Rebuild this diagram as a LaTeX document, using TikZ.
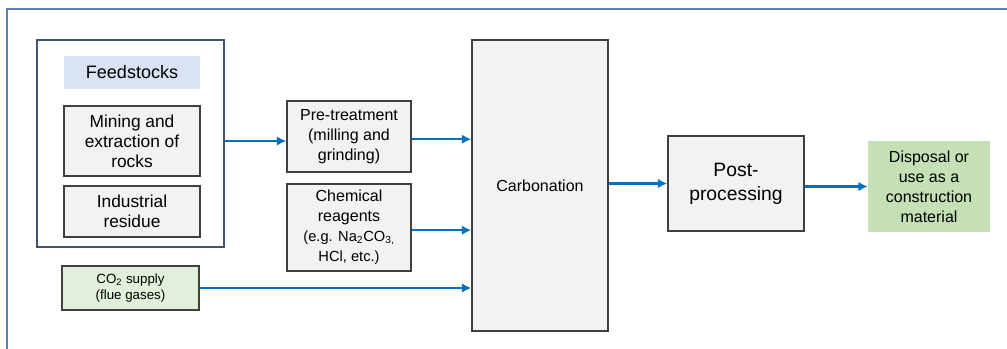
\documentclass[tikz,border=0pt]{standalone}
\usepackage{fontspec}
\setmainfont{Liberation Sans}
\usetikzlibrary{positioning, arrows.meta, calc}

\definecolor{flowblue}{HTML}{0070C0}
\definecolor{framesteel}{HTML}{5B82B0}
\definecolor{groupslate}{HTML}{44546A}
\definecolor{labelblue}{HTML}{DAE3F3}
\definecolor{supplygreen}{HTML}{E2EFDA}
\definecolor{endgreen}{HTML}{C5E0B4}

\begin{document}
\begin{tikzpicture}[
    x=0.75pt, y=-0.75pt,
    >=Latex,
    % Styles
    stage/.style={ % Process box
        rectangle,
        draw=black!75,
        fill=gray!10,
        line width=1.1pt,
        align=center,
        inner sep=0pt,
        font=\fontsize{12}{15}\selectfont
    },
    group/.style={ % Feedstock frame
        rectangle,
        draw=groupslate,
        line width=1.8pt,
        inner sep=0pt
    },
    tag/.style={ % Plain coloured label
        rectangle,
        align=center,
        inner sep=0pt,
        font=\fontsize{12}{15}\selectfont
    },
    flow/.style={
        -{Latex[length=7pt,width=7pt]},
        line width=1.8pt,
        flowblue
    }
]
    \useasboundingbox (0,0) rectangle (1007,349);

    % Outer frame
    \coordinate (fbot) at (7,349);
    \coordinate (fcorner) at (7,9);
    \coordinate (fright) at (1007,9);
    \draw[framesteel, line width=1.6pt] (fbot) -- (fcorner) -- (fright);

    % Feedstocks group
    \node[group, minimum width=140.25pt, minimum height=155.25pt] (feed) at (130.5,143.5) {};
    \node[tag, fill=labelblue, minimum width=102pt, minimum height=24.75pt,
          font=\fontsize{13.5}{16}\selectfont] (feedlabel) at (132,72.5) {Feedstocks};
    \node[stage, minimum width=102pt, minimum height=52.5pt,
          font=\fontsize{13}{15}\selectfont] (mining) at (132,141)
        {Mining and\\extraction of\\rocks};
    \node[stage, minimum width=102pt, minimum height=38.25pt,
          font=\fontsize{13}{15}\selectfont] (residue) at (132,211.5)
        {Industrial\\residue};

    % Inputs
    \node[stage, fill=supplygreen, minimum width=102.75pt, minimum height=33pt,
          font=\fontsize{10}{12.5}\selectfont] (co2) at (130.5,288)
        {CO\textsubscript{2} supply\\(flue gases)};
    \node[stage, minimum width=93pt, minimum height=53.25pt] (pretreat) at (349,136.5)
        {Pre-treatment\\(milling and\\grinding)};
    \node[stage, minimum width=93pt, minimum height=65.25pt] (reagents) at (349,227.5)
        {Chemical\\reagents\\{\fontsize{11}{13}\selectfont (e.g. Na\textsubscript{2}CO\textsubscript{3,}}\\{\fontsize{11}{13}\selectfont HCl, etc.)}};

    % Main process
    \node[stage, minimum width=102pt, minimum height=218.25pt] (carb) at (540,185.5) {Carbonation};
    \node[stage, minimum width=102pt, minimum height=71.25pt,
          font=\fontsize{14.5}{18}\selectfont] (post) at (736,183.5) {Post-\\processing};
    \node[tag, fill=endgreen, minimum width=91.5pt, minimum height=68.25pt] (disposal) at (929,186.5)
        {Disposal or\\use as a\\construction\\material};

    % Connectors
    \draw[flow] (feed.east |- mining) -- (pretreat.west |- mining);
    \draw[flow] ([yshift=-2pt]pretreat.east) -- ([yshift=-2pt]pretreat.east -| carb.west);
    \draw[flow] ([yshift=-2pt]reagents.east) -- ([yshift=-2pt]reagents.east -| carb.west);
    \draw[flow] (co2) -- (co2 -| carb.west);
    \draw[flow] (carb.east |- post) -- (post.west);
    \draw[flow] (post.east |- disposal) -- (disposal.west);
\end{tikzpicture}
\end{document}
